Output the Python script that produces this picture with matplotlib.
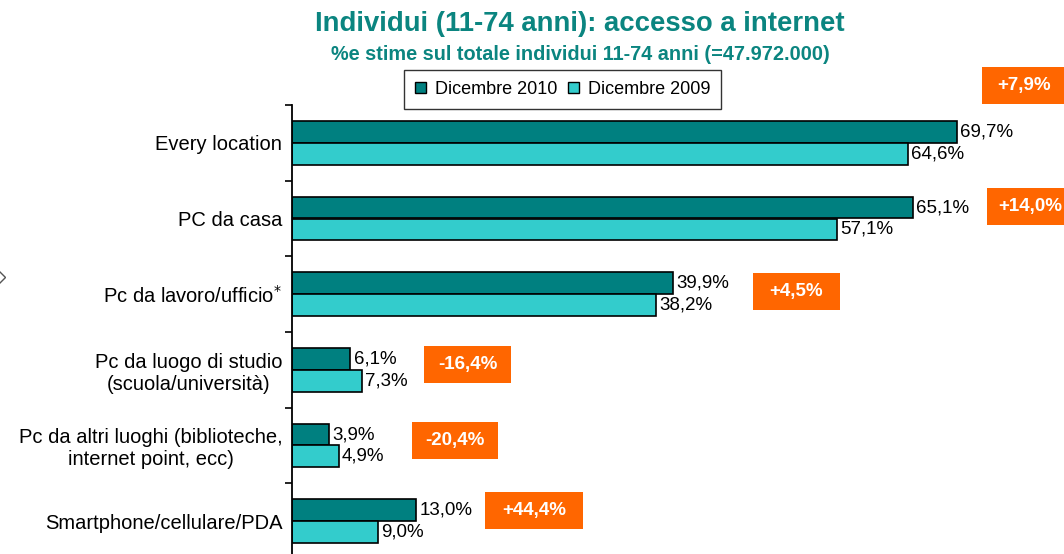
import matplotlib
matplotlib.use("Agg")
import matplotlib.pyplot as plt
from matplotlib.patches import Patch, Rectangle
from matplotlib.lines import Line2D

plt.rcParams['font.family'] = ['Liberation Sans', 'DejaVu Sans']

# -----------------
# DATA
# -----------------
categories = [
    "Every location",
    "PC da casa",
    "Pc da lavoro/ufficio$^{*}$",
    "Pc da luogo di studio\n(scuola/università)",
    "Pc da altri luoghi (biblioteche,\ninternet point, ecc)",
    "Smartphone/cellulare/PDA",
]
dic_2010 = [69.7, 65.1, 39.9, 6.1, 3.9, 13.0]
dic_2009 = [64.6, 57.1, 38.2, 7.3, 4.9, 9.0]
variazioni = ["+7,9%", "+14,0%", "+4,5%", "-16,4%", "-20,4%", "+44,4%"]

# where the orange boxes sit (x in % units, y in category units)
box_x = [76.8, 77.4, 52.9, 18.4, 17.1, 25.4]
box_y = [-0.76, 0.84, 1.97, 2.93, 3.94, 4.86]
box_w = [9.0, 9.0, 9.1, 9.1, 9.0, 10.3]

DARK = '#008080'
LIGHT = '#33CCCC'
ORANGE = '#FF6600'
TITLE_COL = '#0B8580'

# -----------------
# FIGURE
# -----------------
fig = plt.figure(figsize=(10.64, 5.54), dpi=100)
px_per_unit = 9.537
x_max = (1064 - 292) / px_per_unit
ax = fig.add_axes([292 / 1064, 1 - 559 / 554, 1 - 292 / 1064, 454 / 554])

pos = list(range(len(categories)))
h = 0.29
ax.barh([p - h / 2 for p in pos], dic_2010, height=h, color=DARK,
        edgecolor='black', linewidth=1.2, label='Dicembre 2010')
ax.barh([p + h / 2 for p in pos], dic_2009, height=h, color=LIGHT,
        edgecolor='black', linewidth=1.2, label='Dicembre 2009')

for p, v in zip(pos, dic_2010):
    ax.text(v + 0.35, p - h / 2, f"{v:.1f}%".replace('.', ','),
            va='center', ha='left', fontsize=13.5)
for p, v in zip(pos, dic_2009):
    ax.text(v + 0.35, p + h / 2, f"{v:.1f}%".replace('.', ','),
            va='center', ha='left', fontsize=13.5)

# orange change boxes
for lab, bx, by, bw in zip(variazioni, box_x, box_y, box_w):
    ax.add_patch(Rectangle((bx - bw / 2, by - 0.245), bw, 0.49,
                           facecolor=ORANGE, edgecolor='none', clip_on=False))
    ax.text(bx, by, lab, ha='center', va='center', color='white',
            fontsize=13.5, fontweight='bold', clip_on=False)

ax.set_xlim(0, x_max)
ax.set_ylim(5.5, -0.5)
for s in ['top', 'right', 'bottom']:
    ax.spines[s].set_visible(False)
ax.spines['left'].set_linewidth(1.3)
ax.set_xticks([])
ax.set_yticks([p - 0.5 for p in pos] + [5.5])
ax.set_yticklabels([])
ax.tick_params(axis='y', which='major', length=5, width=1.2, direction='out')
ax.set_yticks(pos, minor=True)
ax.set_yticklabels(categories, minor=True, fontsize=14.5)
ax.tick_params(axis='y', which='minor', length=0, pad=7)
for t in ax.get_yticklabels(minor=True):
    t.set_multialignment('center')

# small leftover mark at the left edge (half visible)
fig.add_artist(Line2D([-1 / 1064], [1 - 277 / 554], marker='D', markersize=6,
                      markerfacecolor='none', markeredgecolor='#555555',
                      transform=fig.transFigure))

# -----------------
# TITLES & LEGEND
# -----------------
fig.text(580 / 1064, 1 - 24 / 554, "Individui (11-74 anni): accesso a internet",
         ha='center', va='center', fontsize=19.8, fontweight='bold', color=TITLE_COL)
fig.text(580 / 1064, 1 - 55 / 554, "%e stime sul totale individui 11-74 anni (=47.972.000)",
         ha='center', va='center', fontsize=14.3, fontweight='bold', color=TITLE_COL)

handles = [Patch(facecolor=DARK, edgecolor='black', label='Dicembre 2010'),
           Patch(facecolor=LIGHT, edgecolor='black', label='Dicembre 2009')]
leg = fig.legend(handles=handles, loc='upper left', bbox_to_anchor=(404 / 1064, 1 - 70 / 554),
                 ncol=2, frameon=True, fancybox=False, edgecolor='black', fontsize=13,
                 handlelength=0.6, handleheight=0.6, handletextpad=0.5, columnspacing=0.6,
                 borderpad=0.6, borderaxespad=0)
leg.get_frame().set_linewidth(1.0)

fig.savefig('out.png', dpi=100)
